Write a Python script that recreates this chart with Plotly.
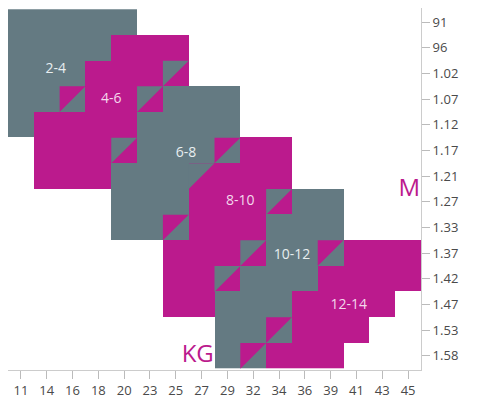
import plotly.graph_objects as go

x_labels = ['11', '14', '16', '18', '20', '23', '25', '27', '29', '32', '34', '36', '39', '41', '43', '45']
y_labels = ['91', '96', '1.02', '1.07', '1.12', '1.17', '1.21', '1.27', '1.33', '1.37', '1.42', '1.47', '1.53', '1.58']

# g = gray, p = pink, a = gray upper-left / pink lower-right, b = pink upper-left / gray lower-right
grid_rows = [
    'ggggg...........',
    'ggggppp.........',
    'gggpppa.........',
    'ggbppaggg.......',
    'gppppgggg.......',
    '.pppagggbpp.....',
    '.pppgggappp.....',
    '....gggpppagg...',
    '....ggbpppggg...',
    '......pppaggbppp',
    '......ppagggpppp',
    '......ppgggpppp.',
    '........ggbppp..',
    '........gbppp...',
]

size_labels = ['2-4', '4-6', '6-8', '8-10', '10-12', '12-14']
label_cols = [1.35, 3.5, 6.4, 8.5, 10.5, 12.7]
label_rows = [1.85, 3.0, 5.1, 7.0, 9.1, 11.05]
label_colors = ['#e8eef0', '#f4d8ec', '#e8eef0', '#f4d8ec', '#e8eef0', '#f4d8ec']

GRAY = '#647a82'
PINK = '#bb1a8d'

# base colour of each cell (lower-right colour for split cells)
base = {'.': None, 'g': 1, 'p': 2, 'a': 2, 'b': 1}
z = [[base[ch] for ch in row] for row in grid_rows]

ul_x = {GRAY: [], PINK: []}
ul_y = {GRAY: [], PINK: []}
for r, row in enumerate(grid_rows):
    for c, ch in enumerate(row):
        if ch in 'ab':
            color = GRAY if ch == 'a' else PINK
            l, rt, t, b = c - 0.5, c + 0.5, r - 0.5, r + 0.5
            ul_x[color] += [l, rt, l, l, None]
            ul_y[color] += [t, t, b, t, None]

fig = go.Figure()
fig.add_trace(go.Heatmap(z=z, x=list(range(len(x_labels))), y=list(range(len(y_labels))),
                         zmin=1, zmax=2, colorscale=[[0, GRAY], [0.5, GRAY], [0.5, PINK], [1, PINK]],
                         showscale=False, hoverinfo='skip', xgap=0, ygap=0))
for color in (GRAY, PINK):
    fig.add_trace(go.Scatter(x=ul_x[color], y=ul_y[color], mode='lines', fill='toself', fillcolor=color,
                             line=dict(color=color, width=0), hoverinfo='skip', showlegend=False))

fig.add_trace(go.Scatter(x=label_cols, y=label_rows, mode='text', text=size_labels,
                         textfont=dict(color=label_colors, size=14, family='Open Sans'),
                         hoverinfo='skip', showlegend=False))
fig.add_trace(go.Scatter(x=[15.05, 6.85], y=[6.55, 13.0], mode='text', text=['M', 'KG'],
                         textfont=dict(color=PINK, size=24, family='Open Sans'),
                         hoverinfo='skip', showlegend=False))

fig.update_layout(
    width=479, height=401,
    margin=dict(l=0, r=66, t=0, b=39),
    plot_bgcolor='white', paper_bgcolor='white',
    font=dict(family='Open Sans', size=13, color='#4a4a4a'),
)
fig.update_xaxes(range=[-0.5, 15.5], tickvals=list(range(len(x_labels))), ticktext=x_labels,
                 ticks='outside', ticklen=8, tickcolor='#bbbbbb', showgrid=False, zeroline=False,
                 showline=True, linecolor='#cccccc', linewidth=1, automargin=False)
fig.update_yaxes(range=[13.55, -0.55], side='right', tickvals=list(range(len(y_labels))), ticktext=y_labels,
                 ticks='outside', ticklen=8, tickcolor='#bbbbbb', showgrid=False, zeroline=False,
                 showline=True, linecolor='#cccccc', linewidth=1, automargin=False)

fig.write_html('out.html')
